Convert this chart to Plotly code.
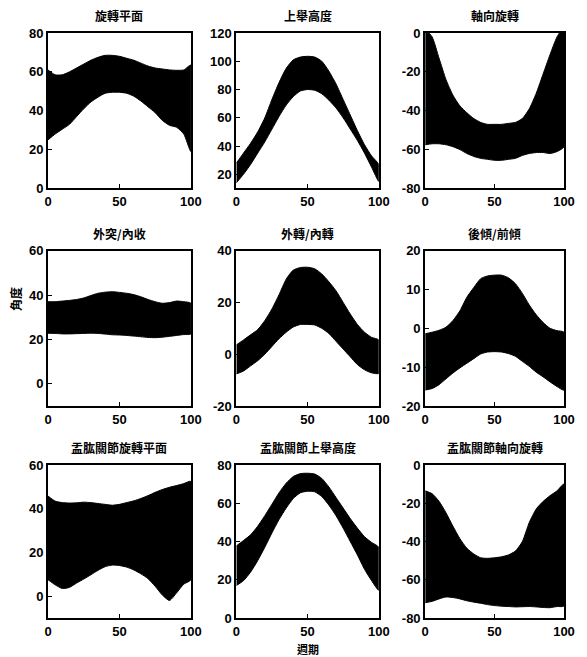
import plotly.graph_objects as go

x = [0, 5, 10, 15, 20, 25, 30, 35, 40, 45, 50, 55, 60, 65, 70, 75, 80, 85, 90, 95, 100]

titles = ["旋轉平面", "上舉高度", "軸向旋轉",
          "外突/內收", "外轉/內轉", "後傾/前傾",
          "盂肱關節旋轉平面", "盂肱關節上舉高度", "盂肱關節軸向旋轉"]

p1_upper = [61, 58.5, 58.5, 60, 62, 64, 66, 67.5, 68.5, 68.5, 68, 67, 66, 64.5, 63, 62, 61.5, 61, 60.8, 61, 63.5]
p1_lower = [25, 28, 30.5, 33, 37, 41, 44.5, 47, 49, 49.5, 49.5, 49, 47.5, 45, 42, 39, 35, 32.5, 31.5, 28, 19]
p2_upper = [28, 35, 42, 50, 60, 73, 85, 95, 101, 103, 103.5, 103, 100, 93, 84, 73, 62, 51, 41, 33, 27]
p2_lower = [14, 20, 27, 35, 43, 52, 61, 69, 75, 79, 80, 79.5, 77, 72.5, 67, 60, 52, 44, 35, 25, 15]
p3_upper = [2, -2, -13, -24, -32, -37.5, -41, -44, -46, -47, -47, -47, -46.5, -46, -44, -39, -31, -21, -11, -2, 3]
p3_lower = [-57.5, -57, -57, -57.5, -58.5, -60, -62, -63.5, -64.5, -65, -65.5, -65.5, -65, -64.5, -63, -62, -61.5, -61.5, -62, -61, -58.5]
p4_upper = [37, 37, 37.3, 37.6, 38, 38.7, 39.8, 40.8, 41.3, 41.5, 41.2, 40.8, 40.2, 39.2, 38, 37, 36.3, 36.6, 37.3, 37, 36.3]
p4_lower = [22.8, 22.7, 22.5, 22.5, 22.6, 22.7, 22.8, 22.7, 22.4, 22.1, 22, 21.8, 21.5, 21.2, 20.9, 20.8, 21, 21.4, 21.8, 22.2, 22.5]
p5_upper = [3.6, 5.5, 7.5, 9.5, 13, 17.5, 23, 29, 32.5, 33.5, 33.6, 33, 31, 28, 24.5, 20, 15.5, 11.5, 8.5, 6.5, 5.5]
p5_lower = [-7.6, -6.5, -4.5, -2.5, 0, 3, 6, 8.5, 10.5, 11.5, 11.5, 11.3, 10, 8, 5, 2, -1, -4, -6, -7.2, -7.4]
p6_upper = [-1.4, -1, -0.5, 0.3, 2, 4.5, 8, 10.5, 12.8, 13.5, 13.7, 13.7, 13, 11.5, 9, 6, 3.5, 1.5, 0, -0.6, -1]
p6_lower = [-15.9, -15.5, -14.5, -13, -11.5, -10.2, -9, -7.8, -6.6, -6.1, -6, -6.1, -6.5, -7.2, -8.5, -9.8, -11.3, -12.5, -13.8, -15, -15.9]
p7_upper = [45.8, 43.5, 42.8, 42.6, 42.7, 43, 42.8, 42.4, 42, 41.6, 42, 42.8, 43.6, 44.7, 46, 47.5, 48.8, 49.8, 50.6, 51.5, 52.5]
p7_lower = [7.5, 5.2, 3.5, 4, 6, 7.8, 9.8, 11.8, 13.5, 14.2, 14, 13.3, 12, 10.2, 8, 4.5, 0.5, -2, 1.5, 5.5, 7.5]
p8_upper = [37.7, 40.5, 43.5, 48, 53.5, 59.5, 65.5, 70.5, 74, 75.5, 75.7, 75.3, 73, 68.5, 63, 57.5, 52, 47, 42.5, 39.5, 37]
p8_lower = [17, 19.5, 24, 30, 37, 44.5, 51.5, 57.5, 62.5, 65.5, 66.3, 66, 63.5, 59, 53.5, 47, 40, 33, 25.5, 19.5, 14.5]
p9_upper = [-13.5, -15, -19, -25, -32, -38.5, -43.5, -46.5, -48.5, -48.8, -48.5, -48, -47, -45, -40, -30, -23, -19, -16, -13.5, -10]
p9_lower = [-72, -71.3, -70, -69, -69.3, -70, -71, -71.7, -72.3, -73, -73.5, -73.8, -74, -74.2, -74.1, -74, -74.2, -74.5, -74.6, -74, -73.7]

uppers = [p1_upper, p2_upper, p3_upper, p4_upper, p5_upper, p6_upper, p7_upper, p8_upper, p9_upper]
lowers = [p1_lower, p2_lower, p3_lower, p4_lower, p5_lower, p6_lower, p7_lower, p8_lower, p9_lower]

y_ranges = [[0, 80], [10, 120], [-80, 0],
            [-10, 60], [-20, 40], [-20, 20],
            [-10, 60], [0, 80], [-80, 0]]
y_ticks = [[0, 20, 40, 60, 80], [20, 40, 60, 80, 100, 120], [-80, -60, -40, -20, 0],
           [0, 20, 40, 60], [-20, 0, 20, 40], [-20, -10, 0, 10, 20],
           [0, 20, 40, 60], [0, 20, 40, 60, 80], [-80, -60, -40, -20, 0]]
x_ticks = [0, 50, 100]

col_domains = [[0.0, 0.277], [0.365, 0.641], [0.731, 1.0]]
row_domains = [[0.7342, 1.0], [0.3624, 0.6279], [0.0, 0.2615]]

fig = go.Figure()
tickfont = dict(family="Liberation Sans", size=13, color="black", weight="bold")
annotations = []

for i in range(9):
    r, c = divmod(i, 3)
    n = i + 1
    xa = "x" if n == 1 else f"x{n}"
    ya = "y" if n == 1 else f"y{n}"
    poly_x = x + x[::-1]
    poly_y = uppers[i] + lowers[i][::-1]
    fig.add_trace(go.Scatter(
        x=poly_x, y=poly_y, fill="toself", fillcolor="black",
        line=dict(color="black", width=1, shape="spline", smoothing=0.6),
        mode="lines", xaxis=xa, yaxis=ya, showlegend=False, hoverinfo="skip"))
    axis_common = dict(showline=True, mirror=True, linecolor="black", linewidth=2,
                       ticks="inside", ticklen=4, tickcolor="black", tickwidth=1,
                       showgrid=False, zeroline=False, tickfont=tickfont)
    fig.layout[f"xaxis{'' if n == 1 else n}"] = dict(
        domain=col_domains[c], anchor=ya, range=[0, 100],
        tickvals=x_ticks, ticktext=[str(v) for v in x_ticks], **axis_common)
    fig.layout[f"yaxis{'' if n == 1 else n}"] = dict(
        domain=row_domains[r], anchor=xa, range=y_ranges[i],
        tickvals=y_ticks[i], ticktext=[str(v) for v in y_ticks[i]], **axis_common)
    annotations.append(dict(
        text=titles[i], xref="paper", yref="paper",
        x=sum(col_domains[c]) / 2, y=row_domains[r][1], yshift=7,
        xanchor="center", yanchor="bottom", showarrow=False,
        font=dict(family="Noto Sans CJK TC", size=12, color="black", weight="bold")))

annotations.append(dict(text="週期", xref="paper", yref="paper", x=0.503, y=-0.053,
                        xanchor="center", yanchor="middle", showarrow=False, borderpad=0,
                        font=dict(family="Noto Sans CJK TC", size=11, color="black", weight="bold")))
annotations.append(dict(text="角度", xref="paper", yref="paper", x=-0.063, y=0.546,
                        xanchor="center", yanchor="middle", showarrow=False, textangle=-90,
                        font=dict(family="Noto Sans CJK TC", size=12, color="black", weight="bold")))

fig.update_layout(width=587, height=657, margin=dict(l=48, r=19, t=33, b=39),
                  paper_bgcolor="white", plot_bgcolor="white", annotations=annotations)

fig.write_html("out.html")
